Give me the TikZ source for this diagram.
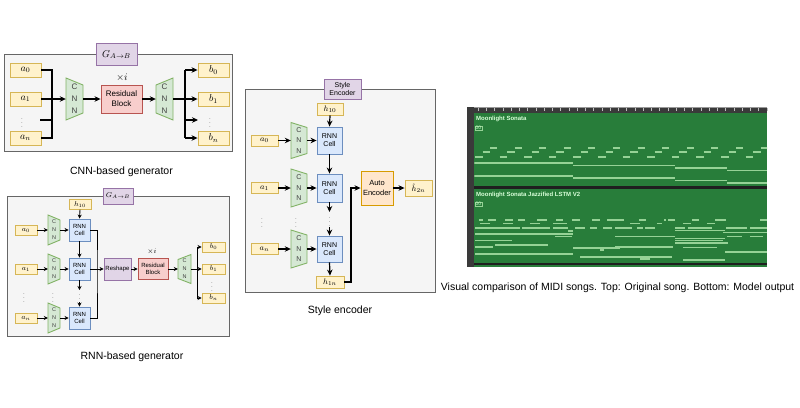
\RequirePackage{fix-cm}
\documentclass[tikz,border=0pt]{standalone}
\usepackage{fontspec}
\setmainfont{Liberation Sans}
\usetikzlibrary{arrows.meta}
\definecolor{ylwF}{HTML}{FFF2CC}\definecolor{ylwD}{HTML}{D6B656}
\definecolor{grnF}{HTML}{D5E8D4}\definecolor{grnD}{HTML}{82B366}
\definecolor{bluF}{HTML}{DAE8FC}\definecolor{bluD}{HTML}{6C8EBF}
\definecolor{redF}{HTML}{F8CECC}\definecolor{redD}{HTML}{B85450}
\definecolor{purF}{HTML}{E1D5E7}\definecolor{purD}{HTML}{9673A6}
\definecolor{orgF}{HTML}{FFE6CC}\definecolor{orgD}{HTML}{D79B00}
\definecolor{panF}{HTML}{F5F5F5}\definecolor{panD}{HTML}{666666}
\definecolor{midigreen}{RGB}{40,125,58}
\definecolor{midigray}{RGB}{58,58,58}
\definecolor{notecol}{RGB}{150,210,150}
\newcommand{\cnnshape}[8]{%
  \filldraw[cnnfill] ({#2-#4/2},{#3-#5/2+#6}) -- ({#2+#4/2},{#3-#5/2+#7}) -- ({#2+#4/2},{#3+#5/2-#7}) -- ({#2-#4/2},{#3+#5/2-#6}) -- cycle;
  \node[inner sep=0pt, minimum width=#4, minimum height=#5, font=#8, align=center, text=black!75] (#1) at (#2,#3) {C\\N\\N};
}
\begin{document}
\begin{tikzpicture}[x=1pt,y=-1pt,
  box/.style={rectangle, inner sep=0pt, line width=0.9pt, align=center},
  ybox/.style={box, fill=ylwF, draw=ylwD},
  rbox/.style={box, fill=redF, draw=redD},
  bbox/.style={box, fill=bluF, draw=bluD},
  pbox/.style={box, fill=purF, draw=purD},
  obox/.style={box, fill=orgF, draw=orgD},
  panel/.style={rectangle, fill=panF, draw=panD, line width=0.9pt, inner sep=0pt},
  cnnfill/.style={fill=grnF, draw=grnD, line width=0.9pt},
  wire/.style={line width=1.2pt, black},
  arr/.style={wire, -{Stealth[length=6pt,width=5.5pt]}},
  swire/.style={line width=0.9pt, black},
  sarr/.style={swire, -{Stealth[length=4pt,width=4pt]}},
  dotsn/.style={inner sep=0pt, text=black!60},
  caption/.style={font=\fontsize{10.5}{12}\selectfont, inner sep=0pt},
  note/.style={line width=1.1pt, draw=notecol},
  f1/.style={font=\fontsize{10}{12}\selectfont},
  f2/.style={font=\fontsize{7}{8}\selectfont},
  f3/.style={font=\fontsize{8}{10}\selectfont},
  fd/.style={font=\fontsize{6}{6}\selectfont}]
\useasboundingbox (0,0) rectangle (800,407);
\fill[white] (0,0) rectangle (800,407);

% ---------------- Panel 1: CNN-based generator
\node[panel, minimum width=228, minimum height=97] (p1) at (118.5,102.5) {};
\node[pbox, minimum width=41, minimum height=22, f1] (g1) at (116.5,54.5) {$G_{A\rightarrow B}$};
\node[ybox, minimum width=31, minimum height=14, f1] (a0) at (25.5,70) {$a_0$};
\node[ybox, minimum width=31, minimum height=14, f1] (a1) at (25.5,99) {$a_1$};
\node[ybox, minimum width=31, minimum height=14, f1] (an) at (25.5,138) {$a_n$};
\node[dotsn, fd] (ad1) at (22,120) {$\vdots$};
\coordinate (busA) at (52,99);
\coordinate (adl) at (40,120);
\draw[wire] (a0.east) -| (busA) |- (an.east);
\draw[wire] (a1.east) -- (busA);
\draw[wire] (adl) -- (adl -| busA);
\cnnshape{c1}{74.5}{99}{17}{42}{0}{7}{\fontsize{8}{12}\selectfont}
\draw[arr] (busA) -- (c1.west);
\node[rbox, minimum width=41, minimum height=28, f3] (res1) at (121.5,99) {Residual\\Block};
\node[inner sep=0pt, f1] (ti1) at (122,78) {$\times i$};
\draw[arr] (c1.east) -- (res1.west);
\cnnshape{c2}{164.5}{99}{17}{42}{7}{0}{\fontsize{8}{12}\selectfont}
\draw[arr] (res1.east) -- (c2.west);
\coordinate (busB) at (185,99);
\draw[wire] (c2.east) -- (busB);
\node[ybox, minimum width=31, minimum height=14, f1] (b0) at (213.5,70) {$b_0$};
\node[ybox, minimum width=31, minimum height=14, f1] (b1) at (213.5,99) {$b_1$};
\node[ybox, minimum width=31, minimum height=14, f1] (bn) at (213.5,138) {$b_n$};
\node[dotsn, fd] (bd1) at (210,120) {$\vdots$};
\coordinate (bdl) at (198,120);
\draw[wire] (busB |- b0) -- (busB |- bn);
\draw[arr] (busB |- b0) -- (b0.west);
\draw[arr] (busB |- b1) -- (b1.west);
\draw[arr] (busB |- bdl) -- (bdl);
\draw[arr] (busB |- bn) -- (bn.west);
\node[caption] (cap1) at (121.5,172) {CNN-based generator};

% ---------------- Panel 2: RNN-based generator
\node[panel, minimum width=222, minimum height=140] (p2) at (118,266) {};
\node[pbox, minimum width=30, minimum height=16, f2] (g2) at (118,196) {$G_{A\rightarrow B}$};
\node[ybox, minimum width=22, minimum height=9.5, f2] (h2a) at (80,204.5) {$h_{10}$};
\node[ybox, minimum width=22, minimum height=10, f2] (pa0) at (26,230) {$a_0$};
\node[ybox, minimum width=22, minimum height=10, f2] (pa1) at (26,269) {$a_1$};
\node[ybox, minimum width=22, minimum height=10, f2] (pan) at (26,318) {$a_n$};
\node[dotsn, fd] (pd1) at (24,295) {$\vdots$};
\node[dotsn, fd] (pd2) at (53,295) {$\vdots$};
\node[dotsn, fd] (pd3) at (79.5,296) {$\vdots$};
\cnnshape{d1}{54}{230}{12}{30}{0}{5}{\fontsize{5.5}{8}\selectfont}
\cnnshape{d2}{54}{269}{12}{30}{0}{5}{\fontsize{5.5}{8}\selectfont}
\cnnshape{d3}{54}{318}{12}{30}{0}{5}{\fontsize{5.5}{8}\selectfont}
\node[bbox, minimum width=21, minimum height=22, font=\fontsize{6}{7}\selectfont] (r1) at (79.5,230) {RNN\\Cell};
\node[bbox, minimum width=21, minimum height=22, font=\fontsize{6}{7}\selectfont] (r2) at (79.5,269) {RNN\\Cell};
\node[bbox, minimum width=21, minimum height=22, font=\fontsize{6}{7}\selectfont] (r3) at (79.5,318) {RNN\\Cell};
\draw[sarr] (pa0.east) -- (d1.west);
\draw[sarr] (pa1.east) -- (d2.west);
\draw[sarr] (pan.east) -- (d3.west);
\draw[sarr] (d1.east) -- (r1.west);
\draw[sarr] (d2.east) -- (r2.west);
\draw[sarr] (d3.east) -- (r3.west);
\draw[sarr] (h2a.south) -- (r1.north);
\draw[sarr] (r1.south) -- (r2.north);
\coordinate (rd2a) at (79.5,290);
\coordinate (rd2b) at (79.5,302);
\draw[sarr] (r2.south) -- (rd2a);
\draw[sarr] (rd2b) -- (r3.north);
\coordinate (bus2a) at (97,269);
\draw[swire] (r1.east) -| (bus2a) |- (r3.east);
\node[pbox, minimum width=27, minimum height=22, font=\fontsize{6}{7}\selectfont] (rs) at (117.5,269) {Reshape};
\draw[sarr] (r2.east) -- (rs.west);
\node[rbox, minimum width=30, minimum height=21, font=\fontsize{6}{7}\selectfont] (res2) at (153,269) {Residual\\Block};
\node[inner sep=0pt, f2] (ti2) at (152,252) {$\times i$};
\draw[sarr] (rs.east) -- (res2.west);
\cnnshape{d4}{184.5}{269}{13}{29}{5}{0}{\fontsize{5.5}{8}\selectfont}
\draw[sarr] (res2.east) -- (d4.west);
\coordinate (bus2b) at (197,269);
\draw[swire] (d4.east) -- (bus2b);
\node[ybox, minimum width=23, minimum height=10, f2] (pb0) at (213.5,247) {$b_0$};
\node[ybox, minimum width=23, minimum height=10, f2] (pb1) at (213.5,269) {$b_1$};
\node[ybox, minimum width=23, minimum height=10, f2] (pbn) at (213.5,298) {$b_n$};
\node[dotsn, fd] (pbd) at (212,284) {$\vdots$};
\draw[swire] (bus2b |- pb0) -- (bus2b |- pbn);
\draw[sarr] (bus2b |- pb0) -- (pb0.west);
\draw[sarr] (bus2b |- pb1) -- (pb1.west);
\draw[sarr] (bus2b |- pbn) -- (pbn.west);
\node[caption] (cap2) at (132,357) {RNN-based generator};

% ---------------- Panel 3: Style encoder
\node[panel, minimum width=190, minimum height=203] (p3) at (340,190.5) {};
\node[pbox, minimum width=37, minimum height=20, f2] (se) at (342.5,89) {Style\\Encoder};
\node[ybox, minimum width=26, minimum height=12, f3] (sh10) at (330,109) {$h_{10}$};
\node[ybox, minimum width=27, minimum height=11, f3] (sa0) at (264.5,140.5) {$a_0$};
\node[ybox, minimum width=27, minimum height=11, f3] (sa1) at (264.5,188) {$a_1$};
\node[ybox, minimum width=27, minimum height=11, f3] (san) at (264.5,249) {$a_n$};
\node[dotsn, fd] (sd1) at (262,220) {$\vdots$};
\node[dotsn, fd] (sd2) at (296,220) {$\vdots$};
\node[dotsn, fd] (sd3) at (329.5,219.5) {$\vdots$};
\cnnshape{e1}{299}{140.5}{16}{36}{0}{5}{\fontsize{7}{10.5}\selectfont}
\cnnshape{e2}{299}{188}{16}{38}{0}{5}{\fontsize{7}{10.5}\selectfont}
\cnnshape{e3}{299}{249}{16}{38}{0}{5}{\fontsize{7}{10.5}\selectfont}
\node[bbox, minimum width=25, minimum height=27, f2] (q1) at (329.5,140.5) {RNN\\Cell};
\node[bbox, minimum width=25, minimum height=28, f2] (q2) at (329.5,188) {RNN\\Cell};
\node[bbox, minimum width=25, minimum height=26, f2] (q3) at (329.5,249) {RNN\\Cell};
\node[ybox, minimum width=28, minimum height=12, f3] (sh1n) at (330,282) {$h_{1n}$};
\draw[arr] (sa0.east) -- (e1.west);
\draw[arr] (sa1.east) -- (e2.west);
\draw[arr] (san.east) -- (e3.west);
\draw[arr] (e1.east) -- (q1.west);
\draw[arr] (e2.east) -- (q2.west);
\draw[arr] (e3.east) -- (q3.west);
\draw[arr] (sh10.south) -- (q1.north);
\draw[arr] (q1.south) -- (q2.north);
\coordinate (qd2a) at (329.5,212);
\coordinate (qd2b) at (329.5,227);
\draw[arr] (q2.south) -- (qd2a);
\draw[arr] (qd2b) -- (q3.north);
\draw[arr] (q3.south) -- (sh1n.north);
\node[obox, minimum width=32, minimum height=34, font=\fontsize{7.5}{9.5}\selectfont] (ae) at (377,188) {Auto\\Encoder};
\coordinate (bus3) at (351,188);
\draw[arr] (sh1n.east) -| (bus3) -- (ae.west);
\node[ybox, minimum width=27, minimum height=16, f3] (sh2n) at (418.5,188) {$\hat{h}_{2n}$};
\draw[arr] (ae.east) -- (sh2n.west);
\node[caption] (cap3) at (340,311) {Style encoder};

% ---------------- Panel 4: MIDI comparison (scene)
\fill[midigray] (467,107) rectangle (767,113);
\draw[black!40, line width=0.6pt] (467,107.3) -- (767,107.3);
\foreach \k in {0,...,35} {
  \draw[black!25, line width=0.5pt] ({478+8.25*\k},108) -- ({478+8.25*\k},111);
}
\fill[midigray] (467,107) rectangle (474,267);
\draw[black!55, line width=0.5pt] (474,113) -- (474,267);
\fill[midigreen] (474.3,113) rectangle (767,186);
\fill[black!88] (474.3,186) rectangle (767,189);
\fill[midigreen] (474.3,189) rectangle (767,262.5);
\fill[black!88] (474.3,262.5) rectangle (767,265);
\fill[midigreen] (474.3,265) rectangle (767,267);
\node[anchor=west, inner sep=0pt, font=\bfseries\fontsize{6}{7}\selectfont, text=white!85!green] (t1) at (476,119) {Moonlight Sonata};
\node[anchor=west, draw=notecol, line width=0.4pt, inner sep=0.5pt, font=\fontsize{5}{5}\selectfont, text=white!80!green] (t1b) at (475,128) {00};
\node[anchor=west, inner sep=0pt, font=\bfseries\fontsize{6}{7}\selectfont, text=white!85!green] (t2) at (476,194.5) {Moonlight Sonata Jazzified LSTM V2};
\node[anchor=west, draw=notecol, line width=0.4pt, inner sep=0.5pt, font=\fontsize{5}{5}\selectfont, text=white!80!green] (t2b) at (475,204) {00};
\begin{scope}
\clip (474.3,113) rectangle (767,262.5);
\foreach \k in {0,...,11} {
  \pgfmathsetmacro\xa{475+24.6*\k}
  \draw[note] (\xa,157) -- ++(7.5,0);
  \draw[note] (\xa+7.5,152) -- ++(7.5,0);
  \draw[note] (\xa+15,148) -- ++(7,0);
}
\draw[note] (474,163) -- (573,163);
\draw[note] (573,165.5) -- (675,165.5);
\draw[note] (675,168) -- (727,168);
\draw[note] (727,170.5) -- (767,170.5);
\draw[note] (474,176) -- (573,176);
\draw[note] (573,178) -- (675,178);
\draw[note] (675,180.5) -- (727,180.5);
\draw[note] (727,183) -- (767,183);
% track 2
\foreach \a/\b in {479/483,488/496,505/513,518/525,537/547,556/563,572/580,592/600,607/624,639/646,664/666,668/675,692/699,715/726,760/767}
  \draw[note] (\a,220) -- (\b,220);
\foreach \a/\b in {480/490,503/513,530/540,553/567,630/640,657/662,683/691,707/715}
  \draw[note] (\a,223.5) -- (\b,223.5);
\foreach \a/\b in {475/520,522/550,553/568,575/585,590/597,603/612,615/632,637/643,645/655,675/685,688/712,726/747,750/767}
  \draw[note] (\a,228) -- (\b,228);
\foreach \a/\b/\y in {675/725/230.5,568/573/231,723/767/232.5,475/573/234,555/572/236.5,615/675/236.5,727/742/236.5,750/763/236.5,675/725/238.5,475/512/240.5,675/723/240.5,675/728/243,495/548/245,475/493/247,615/673/247,683/717/247.5,573/620/248,600/604/250,725/767/252,475/573/254,580/620/257,615/672/257,683/725/260,640/650/259}
  \draw[note] (\a,\y) -- (\b,\y);
\end{scope}
\node[caption] (cap4) at (617.5,288) {Visual comparison of MIDI songs. Top: Original song. Bottom: Model output};
\end{tikzpicture}
\end{document}
